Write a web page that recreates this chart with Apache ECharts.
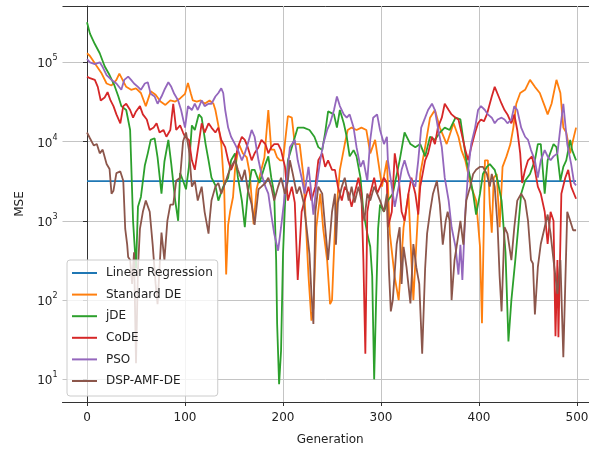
<!DOCTYPE html>
<html>
<head>
<meta charset="utf-8">
<script src="https://cdn.jsdelivr.net/npm/echarts@6/dist/echarts.min.js"></script>
<style>
  html, body { margin: 0; padding: 0; background: #fff; }
  #chart { width: 589px; height: 449px; }
</style>
</head>
<body>
<div id="chart"></div>
<script>
// [generation, MSE] pairs
const linearRegression = 3160;
const lrRange = [0, 499];

const standardDE = [
  [0, 1.3e5], [3, 1.2e5], [10, 8.9e4], [15, 7.2e4], [20, 5.4e4], [25, 5.1e4], [30, 6.0e4], [33, 7.2e4], [35, 7.2e4],
  [40, 4.9e4], [45, 4.5e4], [50, 4.7e4], [55, 4.1e4], [60, 2.8e4], [65, 4.3e4], [70, 3.9e4], [75, 3.2e4], [80, 2.9e4],
  [85, 3.3e4], [90, 3.2e4], [95, 3.5e4], [100, 4.0e4], [103, 5.5e4], [106, 4.0e4], [108, 3.3e4], [112, 3.2e4],
  [116, 3.3e4], [120, 3.0e4], [125, 3.3e4], [129, 3.0e4], [131, 2.5e4], [134, 1.6e4], [137, 9300], [140, 2500],
  [142, 210], [144, 890], [146, 1300], [149, 2000], [151, 4400], [155, 9300], [159, 7100], [163, 6300], [166, 4000],
  [170, 910], [173, 2500], [177, 4000], [181, 6300], [185, 2.5e4], [188, 7900], [191, 7900], [194, 6300], [197, 5800],
  [200, 5800], [205, 2.1e4], [209, 2.0e4], [212, 9300], [217, 9300], [221, 3500], [226, 200], [229, 55], [231, 79],
  [234, 830], [238, 2200], [241, 790], [245, 320], [248, 89], [250, 100], [253, 830], [258, 4400], [263, 9300],
  [266, 1.4e4], [270, 1.5e4], [275, 1.4e4], [280, 1.5e4], [285, 1.4e4], [289, 7100], [294, 1.05e4], [297, 5800],
  [301, 2700], [306, 5800], [309, 690], [314, 195], [318, 100], [323, 830], [328, 2200], [331, 320], [333, 100],
  [336, 510], [340, 3900], [345, 8500], [350, 2.0e4], [355, 2.5e4], [360, 1.5e4], [367, 9300], [374, 1.7e4],
  [379, 1.15e4], [382, 7800], [386, 5800], [389, 3900], [392, 2700], [397, 1800], [401, 470], [403, 51], [405, 1000],
  [406, 5800], [409, 5800], [411, 1600], [413, 710], [415, 3500], [418, 3900], [421, 830], [424, 4800], [428, 6500],
  [432, 9300], [435, 1.5e4], [438, 3.0e4], [442, 4.1e4], [447, 4.5e4], [452, 6.0e4], [457, 4.9e4], [462, 4.1e4],
  [467, 2.8e4], [470, 2.2e4], [474, 3.0e4], [479, 6.0e4], [483, 4.1e4], [486, 1.5e4], [489, 1.3e4], [493, 7100],
  [495, 9300], [499, 1.5e4]
];

const jDE = [
  [0, 3.2e5], [3, 2.3e5], [8, 1.7e5], [13, 1.3e5], [18, 8.9e4], [23, 6.9e4], [28, 5.1e4], [32, 3.7e4], [35, 2.8e4],
  [40, 2.5e4], [44, 1.4e4], [47, 1000], [50, 250], [52, 1500], [55, 2000], [59, 5000], [62, 7100], [65, 1.05e4],
  [69, 1.1e4], [72, 6300], [76, 2200], [79, 5600], [83, 1.05e4], [86, 5200], [90, 1800], [93, 1000], [95, 4000],
  [98, 3200], [101, 2500], [104, 4800], [107, 1.6e4], [110, 1.4e4], [114, 2.2e4], [117, 2.0e4], [121, 9300],
  [124, 5800], [127, 3500], [131, 2800], [134, 1800], [139, 2700], [144, 3500], [147, 5800], [151, 7100], [154, 3500],
  [158, 1800], [161, 830], [164, 2200], [168, 4400], [171, 4400], [176, 3000], [182, 5200], [185, 6500], [188, 3500],
  [191, 2200], [193, 320], [194, 50], [196, 8.7], [198, 23], [200, 380], [202, 1600], [205, 5800], [210, 9300],
  [215, 1.5e4], [221, 1.5e4], [227, 1.4e4], [232, 1.15e4], [236, 8500], [240, 7800], [243, 1.3e4], [246, 2.4e4],
  [252, 2.2e4], [255, 1.5e4], [258, 2.5e4], [262, 1.7e4], [265, 1.15e4], [268, 6500], [272, 7800], [275, 6500],
  [279, 3500], [282, 1300], [286, 690], [289, 470], [291, 200], [293, 10], [295, 100], [297, 790], [299, 1600],
  [303, 1300], [307, 1800], [312, 2200], [319, 5800], [324, 1.3e4], [330, 9300], [335, 8500], [340, 9300],
  [345, 6500], [350, 1.15e4], [355, 1.05e4], [360, 1.3e4], [365, 1.5e4], [370, 1.4e4], [376, 2.0e4], [381, 1.9e4],
  [384, 1.05e4], [387, 5800], [391, 3500], [394, 2200], [397, 1200], [401, 2200], [404, 3900], [408, 4800],
  [411, 5200], [416, 4400], [419, 3200], [423, 1800], [427, 400], [430, 30], [433, 100], [437, 320], [440, 830],
  [443, 2200], [447, 3200], [452, 3900], [457, 5800], [460, 9300], [463, 9300], [467, 2200], [470, 5800], [476, 9300],
  [479, 8500], [483, 3200], [486, 4800], [489, 5800], [493, 1.05e4], [495, 7800], [499, 5800]
];

const coDE = [
  [0, 6.6e4], [3, 6.3e4], [8, 6.0e4], [11, 4.9e4], [14, 3.3e4], [18, 3.6e4], [21, 4.2e4], [24, 3.3e4], [27, 2.8e4],
  [30, 2.2e4], [34, 1.7e4], [37, 2.8e4], [40, 3.0e4], [44, 2.5e4], [47, 2.0e4], [50, 2.4e4], [54, 2.8e4], [57, 2.2e4],
  [61, 1.9e4], [64, 1.4e4], [68, 1.5e4], [71, 1.7e4], [74, 1.3e4], [78, 1.4e4], [81, 1.15e4], [85, 1.4e4],
  [88, 3.0e4], [91, 1.4e4], [95, 1.6e4], [98, 1.3e4], [100, 1.15e4], [104, 1.05e4], [107, 5800], [110, 4400],
  [113, 7800], [117, 1.7e4], [120, 1.3e4], [124, 1.7e4], [127, 1.5e4], [131, 1.3e4], [134, 1.5e4], [137, 1.05e4],
  [141, 8500], [144, 5800], [147, 4400], [151, 5800], [154, 8500], [158, 1.15e4], [161, 1.05e4], [164, 8500],
  [168, 5800], [171, 7100], [175, 8500], [178, 1.05e4], [182, 9300], [185, 7100], [188, 8500], [191, 9300],
  [195, 9300], [198, 7800], [200, 8000], [202, 4800], [205, 1800], [209, 2700], [212, 1700], [215, 180], [219, 1300],
  [222, 1800], [226, 2700], [229, 1800], [233, 2700], [236, 5800], [240, 7100], [243, 4800], [246, 5800], [250, 4400],
  [253, 4400], [256, 2700], [260, 1800], [263, 2700], [267, 2200], [270, 1500], [273, 2200], [277, 3500], [280, 2200],
  [282, 320], [284, 21], [286, 1300], [289, 2200], [293, 3500], [296, 2200], [299, 2700], [303, 3500], [306, 3000],
  [307, 830], [311, 1300], [314, 7100], [318, 3500], [321, 1300], [324, 1000], [328, 2200], [331, 3500], [335, 2200],
  [338, 1200], [340, 2700], [345, 5800], [348, 7100], [352, 1.15e4], [355, 9300], [358, 1.5e4], [362, 2.0e4],
  [365, 3.0e4], [369, 2.5e4], [372, 2.2e4], [376, 2.0e4], [379, 1.9e4], [382, 1.3e4], [386, 7800], [389, 5800],
  [392, 8500], [396, 1.3e4], [399, 1.7e4], [402, 1.9e4], [405, 1.8e4], [408, 2.2e4], [413, 3.7e4], [416, 4.9e4],
  [420, 3.7e4], [423, 3.0e4], [426, 2.5e4], [429, 2.2e4], [433, 1.7e4], [436, 2.2e4], [439, 1.4e4], [442, 7100],
  [444, 3000], [447, 4400], [450, 5800], [454, 6500], [457, 4400], [460, 2700], [463, 2200], [467, 1300], [470, 510],
  [473, 1300], [476, 1000], [478, 35], [480, 320], [481, 34], [484, 2200], [488, 3500], [491, 4400], [494, 2700],
  [499, 1900]
];

const pso = [
  [0, 1.1e5], [3, 1.0e5], [8, 9.5e4], [13, 1.0e5], [16, 8.7e4], [20, 6.9e4], [25, 6.0e4], [30, 5.4e4], [35, 4.5e4],
  [38, 6.0e4], [42, 6.6e4], [45, 6.0e4], [48, 5.4e4], [52, 4.9e4], [55, 4.5e4], [59, 5.4e4], [62, 5.6e4], [65, 4.0e4],
  [69, 3.7e4], [72, 3.0e4], [76, 3.7e4], [79, 4.5e4], [83, 5.6e4], [86, 4.9e4], [89, 4.0e4], [93, 3.3e4], [96, 2.5e4],
  [100, 1.5e4], [103, 2.8e4], [107, 2.5e4], [110, 3.0e4], [113, 2.5e4], [117, 3.3e4], [120, 2.8e4], [124, 3.0e4],
  [127, 3.0e4], [131, 3.7e4], [134, 4.1e4], [137, 4.7e4], [139, 4.1e4], [141, 2.5e4], [144, 1.5e4], [147, 1.15e4],
  [151, 9300], [154, 7800], [158, 5800], [161, 7100], [164, 9300], [168, 1.4e4], [171, 1.15e4], [175, 5800],
  [178, 3900], [182, 2700], [185, 2200], [188, 1200], [191, 690], [195, 420], [198, 830], [202, 2200], [205, 4800],
  [207, 8500], [212, 1.05e4], [215, 5800], [219, 3500], [222, 2200], [226, 4800], [229, 2200], [231, 1200],
  [234, 2700], [238, 5800], [241, 9300], [245, 1.4e4], [248, 1.7e4], [252, 2.5e4], [255, 3.7e4], [258, 2.8e4],
  [262, 2.2e4], [265, 2.0e4], [268, 2.2e4], [272, 1.5e4], [275, 8500], [279, 4800], [282, 5800], [286, 3200],
  [289, 1.05e4], [292, 2.0e4], [296, 2.2e4], [299, 1.4e4], [303, 9300], [306, 1.15e4], [307, 5800], [311, 2700],
  [314, 1500], [318, 2700], [321, 4400], [324, 5800], [328, 3900], [331, 3200], [335, 2700], [338, 5800], [341, 1.5e4],
  [345, 2.0e4], [348, 2.5e4], [352, 3.0e4], [355, 2.5e4], [358, 1.5e4], [362, 8500], [365, 3500], [369, 1800],
  [372, 830], [376, 470], [379, 210], [381, 500], [383, 180], [386, 1300], [389, 4400], [392, 9300], [396, 1.5e4],
  [399, 2.5e4], [402, 2.8e4], [406, 2.5e4], [409, 2.2e4], [413, 2.0e4], [416, 1.7e4], [419, 1.9e4], [423, 2.0e4],
  [426, 1.9e4], [429, 1.7e4], [433, 1.9e4], [436, 2.8e4], [439, 2.5e4], [443, 1.5e4], [447, 1.15e4], [450, 1.05e4],
  [453, 7800], [457, 5800], [460, 3500], [463, 5800], [467, 7800], [470, 6500], [473, 5800], [476, 6500], [480, 7100],
  [483, 1.5e4], [486, 3.0e4], [490, 9300], [494, 5200], [497, 3000], [499, 2800]
];

const dspAmfDe = [
  [0, 1.3e4], [3, 1.1e4], [7, 8900], [10, 9300], [13, 7100], [16, 7900], [20, 5200], [23, 4500], [25, 2200],
  [27, 2400], [30, 4000], [34, 4200], [37, 3200], [39, 790], [41, 500], [42, 350], [44, 320], [46, 160], [48, 400],
  [50, 16], [52, 250], [54, 790], [57, 1300], [60, 1800], [64, 1300], [67, 500], [70, 160], [72, 89], [74, 250],
  [76, 710], [79, 320], [82, 1000], [85, 1600], [88, 1600], [91, 3200], [95, 3500], [98, 1.0e4], [101, 1.3e4],
  [104, 7900], [107, 2700], [110, 3200], [113, 1800], [117, 2700], [120, 1300], [124, 690], [125, 1000], [127, 1800],
  [131, 2700], [134, 3000], [137, 2200], [141, 3000], [144, 3900], [147, 4800], [151, 5800], [154, 4400], [158, 3200],
  [161, 4400], [164, 2500], [168, 1600], [171, 890], [175, 2500], [178, 2700], [182, 3000], [185, 3500], [188, 2700],
  [191, 1800], [195, 2700], [198, 3500], [202, 2200], [205, 3200], [207, 5800], [210, 3900], [214, 2200], [217, 2700],
  [221, 1700], [224, 830], [227, 380], [229, 120], [231, 50], [233, 1300], [236, 2700], [240, 2200], [243, 830],
  [246, 320], [250, 1300], [253, 2200], [254, 500], [256, 1700], [260, 2700], [263, 3500], [267, 1800], [270, 2700],
  [273, 1700], [277, 2700], [280, 1800], [283, 1000], [286, 2200], [289, 1800], [293, 2700], [296, 2200], [299, 1800],
  [303, 1300], [306, 2200], [308, 250], [310, 72], [312, 100], [316, 510], [319, 830], [321, 160], [323, 470],
  [326, 260], [330, 91], [333, 510], [336, 260], [339, 160], [342, 21], [345, 250], [347, 690], [350, 1300],
  [353, 2200], [357, 3200], [360, 1600], [363, 500], [366, 1000], [368, 1300], [370, 1000], [372, 100], [375, 320],
  [378, 560], [381, 1000], [384, 500], [387, 1800], [391, 2700], [394, 3900], [397, 4400], [401, 4800], [404, 4800],
  [408, 3900], [411, 2700], [413, 3900], [416, 2700], [419, 830], [421, 200], [423, 72], [426, 830], [429, 690],
  [433, 320], [436, 830], [439, 1800], [443, 2200], [447, 1800], [450, 1000], [453, 320], [455, 290], [457, 66],
  [460, 260], [463, 510], [467, 830], [470, 1200], [473, 690], [476, 320], [480, 120], [483, 320], [486, 19],
  [488, 160], [490, 1300], [493, 1000], [496, 760], [499, 760]
];

const seriesNames = ['Linear Regression', 'Standard DE', 'jDE', 'CoDE', 'PSO', 'DSP-AMF-DE'];
const xTicks = [0, 100, 200, 300, 400, 500];

const colors = ['#1f77b4', '#ff7f0e', '#2ca02c', '#d62728', '#9467bd', '#8c564b'];
const textColor = '#222';
const spineColor = '#333';
const gridColor = '#c4c4c4';
const fontFamily = 'DejaVu Sans';

const seriesData = [
  lrRange.map(g => [g, linearRegression]),
  standardDE, jDE, coDE, pso, dspAmfDe
];

const series = seriesNames.map((name, i) => ({
  name: name,
  type: 'line',
  symbol: 'none',
  showSymbol: false,
  data: seriesData[i],
  lineStyle: { width: 1.8, color: colors[i] },
  itemStyle: { color: colors[i] }
}));

const chart = echarts.init(document.getElementById('chart'));

const option = {
  animation: false,
  backgroundColor: '#fff',
  textStyle: { fontFamily: fontFamily },
  grid: {
    left: 62.5,
    right: 0,
    top: 6,
    bottom: 47,
    outerBoundsMode: 'none'
  },
  legend: {
    orient: 'vertical',
    left: 67,
    top: 260,
    data: seriesNames,
    icon: 'rect',
    itemWidth: 25,
    itemHeight: 2,
    itemGap: 7.6,
    padding: [6, 5, 8, 5],
    backgroundColor: 'rgba(255,255,255,0.8)',
    borderColor: '#ccc',
    borderWidth: 1,
    borderRadius: 3,
    textStyle: {
      fontFamily: fontFamily,
      fontSize: 12,
      color: textColor,
      lineHeight: 14,
      padding: [0, 0, 0, 4]
    }
  },
  xAxis: {
    type: 'value',
    min: -25,
    max: 512.2,
    name: 'Generation',
    nameLocation: 'middle',
    nameGap: 32,
    nameTextStyle: { fontFamily: fontFamily, fontSize: 12, color: textColor, padding: [0, 0, 0, 9] },
    axisLine: { show: true, lineStyle: { color: spineColor, width: 1 } },
    axisTick: {
      show: true,
      customValues: xTicks,
      length: 4,
      lineStyle: { color: spineColor }
    },
    axisLabel: {
      customValues: xTicks,
      fontFamily: fontFamily,
      fontSize: 12,
      color: textColor,
      margin: 10
    },
    splitLine: { show: true, lineStyle: { color: gridColor } }
  },
  yAxis: {
    type: 'log',
    logBase: 10,
    min: 5.18,
    max: 513000,
    name: 'MSE',
    nameLocation: 'middle',
    nameRotate: 90,
    nameGap: 28,
    nameTextStyle: { fontFamily: fontFamily, fontSize: 12, color: textColor },
    axisLine: { show: true, lineStyle: { color: spineColor, width: 1 } },
    axisTick: { show: true, length: 4, lineStyle: { color: spineColor } },
    axisLabel: {
      showMinLabel: false,
      showMaxLabel: false,
      margin: 5,
      formatter: function (v) {
        return '{b|10}{s|' + Math.round(Math.log10(v)) + '}';
      },
      rich: {
        b: { fontFamily: fontFamily, fontSize: 12, color: textColor, lineHeight: 16, verticalAlign: 'bottom' },
        s: { fontFamily: fontFamily, fontSize: 8, color: textColor, lineHeight: 8, verticalAlign: 'top' }
      }
    },
    // the last split line (at the axis max) doubles as the top spine
    splitLine: {
      show: true,
      lineStyle: { color: [spineColor, gridColor, gridColor, gridColor, gridColor, gridColor, spineColor] }
    }
  },
  series: series
};

chart.setOption(option);
</script>
</body>
</html>
